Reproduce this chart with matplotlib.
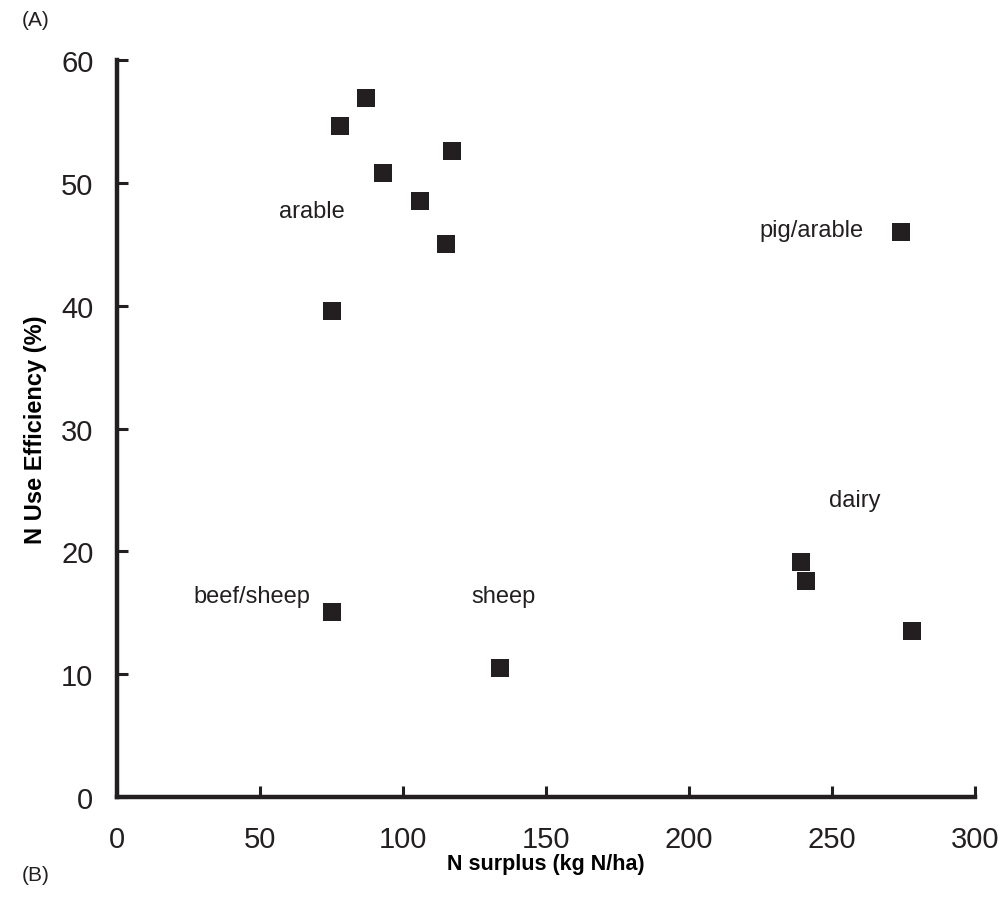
import matplotlib.pyplot as plt

plt.rcParams['font.family'] = ['Liberation Sans', 'DejaVu Sans']

# N surplus (kg N/ha) and N use efficiency (%)
surplus = [87, 78, 117, 93, 106, 115, 75, 274, 239, 241, 278, 75, 134]
nue = [56.9, 54.6, 52.6, 50.8, 48.5, 45.0, 39.6, 46.0, 19.1, 17.6, 13.5, 15.1, 10.5]

labels = ['arable', 'pig/arable', 'dairy', 'beef/sheep', 'sheep']
label_x = [68, 243, 258, 47, 135]
label_y = [47.7, 46.2, 24.2, 16.4, 16.4]

fig = plt.figure(figsize=(10.07, 9.12), dpi=100)
ax = fig.add_axes([0.1162, 0.125, 0.852, 0.808])

ax.plot(surplus, nue, 's', color='#231f20', markersize=13.5, markeredgewidth=0)

for t, x, y in zip(labels, label_x, label_y):
    ax.text(x, y, t, ha='center', va='center', fontsize=17, color='#231f20')

ax.set_xlim(0, 300)
ax.set_ylim(0, 60)
ax.set_xticks(range(0, 301, 50))
ax.set_yticks(range(0, 61, 10))
ax.spines['top'].set_visible(False)
ax.spines['right'].set_visible(False)
for s in ['left', 'bottom']:
    ax.spines[s].set_linewidth(3.2)
    ax.spines[s].set_color('#231f20')
ax.tick_params(direction='in', length=8, width=2.2, labelsize=21, colors='#231f20')
ax.tick_params(axis='x', pad=20)
ax.tick_params(axis='y', pad=17)

ax.set_xlabel('N surplus (kg N/ha)', fontsize=15.5, fontweight='bold', labelpad=0)
ax.set_ylabel('N Use Efficiency (%)', fontsize=17, fontweight='bold', labelpad=10)

fig.text(0.022, 0.977, '(A)', fontsize=15, va='center', ha='left', color='#231f20')
fig.text(0.022, 0.040, '(B)', fontsize=15, va='center', ha='left', color='#231f20')

fig.savefig('out.png', dpi=100)
